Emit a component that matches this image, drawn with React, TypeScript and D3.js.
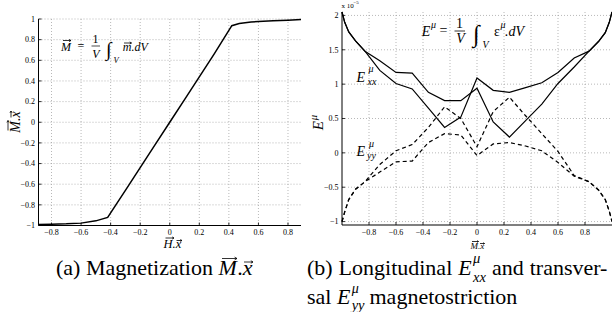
import React from 'react';
import * as d3 from 'd3';

// ---------- data ----------
const magH = [-0.888, -0.8, -0.7, -0.6, -0.5, -0.42, -0.3, -0.2, -0.1, 0, 0.1, 0.2, 0.3, 0.42, 0.47, 0.55, 0.6, 0.7, 0.8, 0.888];
const magM = [-0.99, -0.987, -0.984, -0.977, -0.955, -0.922, -0.66, -0.44, -0.22, 0, 0.22, 0.44, 0.66, 0.935, 0.957, 0.97, 0.976, 0.983, 0.988, 0.995];

const eX = [-1.0, -0.98, -0.95, -0.9, -0.83, -0.72, -0.6, -0.48, -0.36, -0.24, -0.12, 0, 0.12, 0.24, 0.36, 0.48, 0.6, 0.72, 0.83, 0.9, 0.95, 0.98, 1.0];
const exx1 = [2.05, 1.9, 1.76, 1.63, 1.48, 1.34, 1.17, 1.16, 0.88, 0.76, 0.76, 0.94, 0.45, 0.23, 0.47, 0.71, 1.01, 1.25, 1.48, 1.62, 1.75, 1.9, 2.05];
const exx2 = [2.05, 1.9, 1.76, 1.63, 1.48, 1.2, 1.01, 0.93, 0.65, 0.37, 0.52, 1.09, 0.91, 0.88, 0.95, 1.02, 1.17, 1.38, 1.48, 1.62, 1.75, 1.9, 2.05];
const eyy1 = [-1.0, -0.86, -0.68, -0.53, -0.42, -0.17, 0.03, 0.12, 0.37, 0.67, 0.5, 0.09, 0.6, 0.81, 0.54, 0.28, 0.02, -0.33, -0.42, -0.54, -0.68, -0.85, -1.0];
const eyy2 = [-1.0, -0.86, -0.68, -0.53, -0.42, -0.28, -0.13, -0.12, 0.15, 0.28, 0.26, -0.04, 0.13, 0.15, 0.1, 0.03, -0.14, -0.34, -0.42, -0.54, -0.68, -0.85, -1.0];

const leftXTicks = [-0.8, -0.6, -0.4, -0.2, 0, 0.2, 0.4, 0.6, 0.8];
const leftYTicks = [-1, -0.8, -0.6, -0.4, -0.2, 0, 0.2, 0.4, 0.6, 0.8, 1];
const rightXTicks = [-0.8, -0.6, -0.4, -0.2, 0, 0.2, 0.4, 0.6, 0.8];
const rightYTicks = [-1, -0.5, 0, 0.5, 1, 1.5, 2];

const SERIF = '"Liberation Serif"';
const fmt = (v: number) => {
  const s = String(Math.round(v * 10) / 10);
  return v < 0 ? '\u2212' + s.slice(1) : s;
};

type TP = {
  x: number;
  y: number;
  fs: number;
  it?: boolean;
  anchor?: 'start' | 'middle' | 'end';
  children: React.ReactNode;
};
const T = ({ x, y, fs, it, anchor = 'start', children }: TP) => (
  <text x={x} y={y} textAnchor={anchor} fontSize={fs} fontStyle={it ? 'italic' : undefined} style={{ fontFamily: SERIF }} fill="#000">
    {children}
  </text>
);

const Arrow = ({ x1, x2, y, s = 2 }: { x1: number; x2: number; y: number; s?: number }) => (
  <path
    d={`M${x1},${y}H${x2}M${x2 - s * 1.2},${y - s * 0.7}L${x2},${y}L${x2 - s * 1.2},${y + s * 0.7}`}
    stroke="#000"
    strokeWidth={0.8}
    fill="none"
  />
);

export default function App() {
  const xL = d3.scaleLinear().domain([-0.888, 0.888]).range([38.5, 301]);
  const yL = d3.scaleLinear().domain([-1, 1]).range([225.5, 19]);
  const xR = d3.scaleLinear().domain([-1, 1]).range([342, 612]);
  const yR = d3.scaleLinear().domain([-1.05, 2.05]).range([225, 12]);

  const lineL = d3.line<number>().x((_, i) => xL(magH[i])).y((d) => yL(d));
  const lineR = d3.line<number>().x((_, i) => xR(eX[i])).y((d) => yR(d));

  const grid = { stroke: '#9a9a9a', strokeWidth: 0.7, strokeDasharray: '1 2' };
  const tickFs = 8;

  return (
    <svg width={612} height={312} style={{ position: 'absolute', left: 0, top: 0, background: '#fff' }}>
      <rect x={0} y={0} width={612} height={312} fill="#fff" />

      {/* ---------- LEFT CHART ---------- */}
      <g>
        {leftXTicks.map((t) => (
          <line key={'lgx' + t} x1={xL(t)} x2={xL(t)} y1={yL(1)} y2={yL(-1)} {...grid} />
        ))}
        {leftYTicks.map((t) => (
          <line key={'lgy' + t} x1={xL(-0.888)} x2={xL(0.888)} y1={yL(t)} y2={yL(t)} {...grid} />
        ))}
        <line x1={38.5} x2={38.5} y1={yL(1)} y2={yL(-1)} stroke="#000" strokeWidth={1} />
        <line x1={38.5} x2={301} y1={yL(-1)} y2={yL(-1)} stroke="#000" strokeWidth={1} />
        {leftXTicks.map((t) => (
          <g key={'lxt' + t}>
            <line x1={xL(t)} x2={xL(t)} y1={yL(-1)} y2={yL(-1) - 3} stroke="#000" strokeWidth={0.8} />
            <T x={xL(t)} y={235} fs={tickFs} anchor="middle">{fmt(t)}</T>
          </g>
        ))}
        {leftYTicks.map((t) => (
          <g key={'lyt' + t}>
            <line x1={38.5} x2={41.5} y1={yL(t)} y2={yL(t)} stroke="#000" strokeWidth={0.8} />
            <T x={35} y={yL(t) + 2.8} fs={tickFs} anchor="end">{fmt(t)}</T>
          </g>
        ))}
        <path d={lineL(magM) || ''} fill="none" stroke="#000" strokeWidth={1.5} />

        {/* formula */}
        <T x={61} y={50.7} fs={12} it>M</T>
        <Arrow x1={63} x2={71} y={40.5} s={1.6} />
        <T x={77.5} y={50.2} fs={12}>=</T>
        <T x={95.5} y={42.5} fs={12} anchor="middle">1</T>
        <line x1={91.5} x2={100} y1={46} y2={46} stroke="#000" strokeWidth={0.7} />
        <T x={96} y={58.3} fs={12} it anchor="middle">V</T>
        <T x={106} y={56} fs={20} it>∫</T>
        <T x={113.5} y={63} fs={8.5} it>V</T>
        <T x={122.7} y={50.7} fs={12} it>m</T>
        <Arrow x1={124} x2={131.5} y={43} s={1.5} />
        <T x={131.5} y={50.7} fs={12} it>.dV</T>

        {/* axis labels */}
        <T x={163.5} y={248} fs={12.5} it>H.x</T>
        <Arrow x1={165.5} x2={174} y={238} s={1.5} />
        <Arrow x1={176.5} x2={182} y={240.5} s={1.4} />
        <g transform="translate(20,122) rotate(-90)">
          <T x={-10.7} y={0} fs={14} it>M.x</T>
          <Arrow x1={-8.5} x2={1.5} y={-12} s={1.6} />
          <Arrow x1={4.5} x2={11} y={-9} s={1.5} />
        </g>
      </g>

      {/* ---------- RIGHT CHART ---------- */}
      <g>
        {rightXTicks.map((t) => (
          <line key={'rgx' + t} x1={xR(t)} x2={xR(t)} y1={yR(2.05)} y2={yR(-1.05)} {...grid} />
        ))}
        {rightYTicks.map((t) => (
          <line key={'rgy' + t} x1={xR(-1)} x2={xR(1)} y1={yR(t)} y2={yR(t)} {...grid} />
        ))}
        <line x1={342} x2={342} y1={yR(2.05)} y2={yR(-1.05)} stroke="#000" strokeWidth={1} />
        <line x1={342} x2={612} y1={yR(-1.05)} y2={yR(-1.05)} stroke="#000" strokeWidth={1} />
        {rightXTicks.map((t) => (
          <g key={'rxt' + t}>
            <line x1={xR(t)} x2={xR(t)} y1={yR(-1.05)} y2={yR(-1.05) - 3} stroke="#000" strokeWidth={0.8} />
            <T x={xR(t)} y={235} fs={tickFs} anchor="middle">{fmt(t)}</T>
          </g>
        ))}
        {rightYTicks.map((t) => (
          <g key={'ryt' + t}>
            <line x1={342} x2={345} y1={yR(t)} y2={yR(t)} stroke="#000" strokeWidth={0.8} />
            <T x={338.5} y={yR(t) + 2.8} fs={tickFs} anchor="end">{fmt(t)}</T>
          </g>
        ))}
        <T x={341.5} y={7.5} fs={7}>x 10</T>
        <T x={353.5} y={4.3} fs={5}>−5</T>

        <path d={lineR(exx1) || ''} fill="none" stroke="#000" strokeWidth={1.2} />
        <path d={lineR(exx2) || ''} fill="none" stroke="#000" strokeWidth={1.2} />
        <path d={lineR(eyy1) || ''} fill="none" stroke="#000" strokeWidth={1.2} strokeDasharray="4 3" />
        <path d={lineR(eyy2) || ''} fill="none" stroke="#000" strokeWidth={1.2} strokeDasharray="4 3" />

        {/* formula */}
        <T x={421.7} y={35.7} fs={14} it>E</T>
        <T x={431} y={27.5} fs={10} it>μ</T>
        <T x={439.5} y={34.5} fs={14}>=</T>
        <T x={459.5} y={28.3} fs={14} anchor="middle">1</T>
        <line x1={454.5} x2={465} y1={31} y2={31} stroke="#000" strokeWidth={0.8} />
        <T x={460.5} y={43.3} fs={14} it anchor="middle">V</T>
        <T x={473} y={42} fs={24} it>∫</T>
        <T x={482.5} y={47.5} fs={10} it>V</T>
        <T x={494} y={35.7} fs={14}>ε</T>
        <T x={500.5} y={28} fs={10} it>μ</T>
        <T x={505} y={35.7} fs={14} it>.dV</T>

        {/* curve labels */}
        <T x={356.5} y={81.7} fs={14} it>E</T>
        <T x={368.5} y={71.5} fs={10} it>μ</T>
        <T x={367.5} y={85} fs={10} it>xx</T>
        <T x={356.5} y={156} fs={14} it>E</T>
        <T x={369} y={147} fs={10} it>μ</T>
        <T x={367} y={159} fs={10} it>yy</T>

        {/* axis labels */}
        <T x={470.6} y={249} fs={9} it>M.x</T>
        <Arrow x1={472} x2={478.5} y={241.5} s={1.2} />
        <Arrow x1={480} x2={484.5} y={243.5} s={1.1} />
        <g transform="translate(322.7,121.7) rotate(-90)">
          <T x={-8.5} y={0} fs={15} it>E</T>
          <T x={1.5} y={-6} fs={10.5} it>μ</T>
        </g>
      </g>

      {/* ---------- CAPTIONS ---------- */}
      <g>
        <T x={56} y={275} fs={22}>(a)</T>
        <T x={85.9} y={275} fs={22}>Magnetization</T>
        <T x={218.5} y={275} fs={22} it>M</T>
        <Arrow x1={222} x2={237} y={258.5} s={2} />
        <T x={237.3} y={275} fs={22}>.</T>
        <T x={242.8} y={275} fs={22} it>x</T>
        <Arrow x1={244} x2={253} y={262} s={1.8} />

        <T x={307} y={275} fs={22}>(b)</T>
        <T x={338.6} y={275} fs={22}>Longitudinal</T>
        <T x={458.2} y={275} fs={22} it>E</T>
        <T x={473} y={262.5} fs={14.5} it>μ</T>
        <T x={473} y={282} fs={14.5} it>xx</T>
        <T x={492} y={275} fs={22}>and</T>
        <T x={529.7} y={275} fs={22}>transver-</T>

        <T x={307} y={304} fs={22}>sal</T>
        <T x={336.9} y={304} fs={22} it>E</T>
        <T x={351.7} y={293} fs={14} it>μ</T>
        <T x={351.7} y={309.5} fs={14.5} it>yy</T>
        <T x={369.5} y={304} fs={22}>magnetostriction</T>
      </g>
    </svg>
  );
}
